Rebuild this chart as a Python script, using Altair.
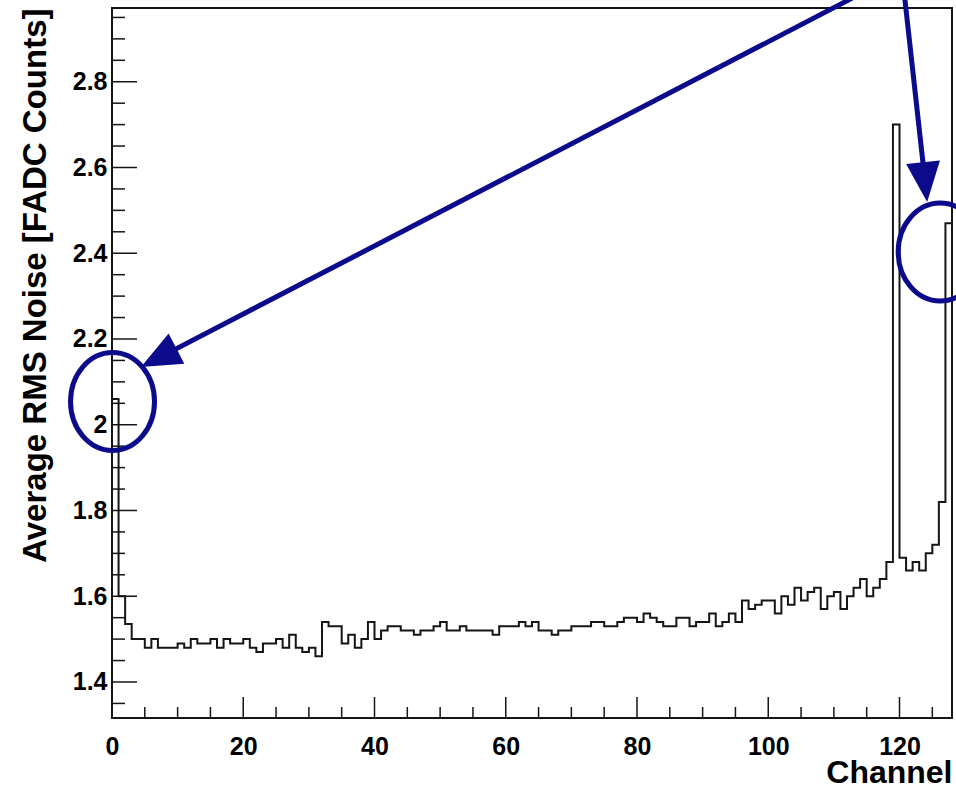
import altair as alt
import pandas as pd

# ---- data ----
channels = list(range(128))
noise = [
    2.06, 1.60, 1.535, 1.50, 1.50, 1.48, 1.50, 1.48, 1.48, 1.48,
    1.49, 1.48, 1.50, 1.49, 1.49, 1.50, 1.48, 1.50, 1.49, 1.49,
    1.50, 1.48, 1.47, 1.49, 1.49, 1.50, 1.48, 1.51, 1.48, 1.47,
    1.48, 1.46, 1.54, 1.53, 1.53, 1.49, 1.51, 1.48, 1.50, 1.54,
    1.50, 1.52, 1.53, 1.53, 1.52, 1.52, 1.51, 1.52, 1.52, 1.53,
    1.54, 1.52, 1.52, 1.53, 1.52, 1.52, 1.52, 1.52, 1.51, 1.53,
    1.53, 1.53, 1.54, 1.53, 1.54, 1.52, 1.52, 1.51, 1.52, 1.52,
    1.53, 1.53, 1.53, 1.54, 1.54, 1.53, 1.53, 1.54, 1.55, 1.55,
    1.54, 1.56, 1.55, 1.54, 1.53, 1.53, 1.55, 1.55, 1.53, 1.54,
    1.54, 1.56, 1.53, 1.54, 1.56, 1.54, 1.59, 1.57, 1.58, 1.59,
    1.59, 1.56, 1.60, 1.58, 1.62, 1.59, 1.61, 1.62, 1.57, 1.60,
    1.61, 1.57, 1.60, 1.62, 1.64, 1.60, 1.62, 1.64, 1.68, 2.70,
    1.69, 1.66, 1.68, 1.66, 1.70, 1.72, 1.82, 2.47,
]

x_major = [0, 20, 40, 60, 80, 100, 120]
x_minor = [5, 10, 15, 25, 30, 35, 45, 50, 55, 65, 70, 75, 85, 90, 95,
           105, 110, 115, 125]
y_major = [1.4, 1.6, 1.8, 2.0, 2.2, 2.4, 2.6, 2.8]
y_minor = [1.35, 1.45, 1.5, 1.55, 1.65, 1.7, 1.75, 1.85, 1.9, 1.95, 2.05,
           2.1, 2.15, 2.25, 2.3, 2.35, 2.45, 2.5, 2.55, 2.65, 2.7, 2.75,
           2.85, 2.9, 2.95]

# annotation anchors (data coordinates)
arrow_x_start = [112.8, 120.8]
arrow_y_start = [2.995, 2.995]
arrow_x_end = [7.12, 123.9]
arrow_y_end = [2.156, 2.566]
arrow_angle = [242.6, 174.1]
ring_x = [0.08, 126.2]
ring_y = [2.054, 2.403]

# ---- tables ----
hist = pd.DataFrame({"channel": channels + [128], "noise": noise + [noise[-1]]})
xmaj = pd.DataFrame({"channel": x_major})
xmin = pd.DataFrame({"channel": x_minor})
ymaj = pd.DataFrame({"noise": y_major})
ymin = pd.DataFrame({"noise": y_minor})
arrows = pd.DataFrame({"channel": arrow_x_start, "noise": arrow_y_start,
                       "channel2": arrow_x_end, "noise2": arrow_y_end,
                       "angle": arrow_angle})
rings = pd.DataFrame({"channel": ring_x, "noise": ring_y})

XDOM = [0, 128]
YDOM = [1.316, 2.972]
FONT = "Liberation Sans"
INK = "#151515"
BLUE = "#0b0b8c"

xs = alt.Scale(domain=XDOM, nice=False, zero=False)
ys = alt.Scale(domain=YDOM, nice=False, zero=False)

AX = alt.Axis(
    values=x_major, format="d", ticks=False, domain=False, grid=False,
    labelFont=FONT, labelFontSize=25, labelFontWeight="bold",
    labelColor="black", labelPadding=16, labelFlush=False,
    title="Channel", titleFont=FONT, titleFontSize=32,
    titleFontWeight="bold", titleColor="black", titleAlign="right",
    titleBaseline="alphabetic", titleAngle=0, titleX=840, titleY=64)
AY = alt.Axis(
    values=y_major, format=".1~f", ticks=False, domain=False, grid=False,
    labelFont=FONT, labelFontSize=25, labelFontWeight="bold",
    labelColor="black", labelPadding=5,
    title="Average RMS Noise [FADC Counts]", titleFont=FONT,
    titleFontSize=33, titleFontWeight="bold", titleColor="black",
    titleAngle=270, titleAlign="right", titleBaseline="alphabetic",
    titleX=-67, titleY=0)


def X(field):
    return alt.X(field, type="quantitative", scale=xs, axis=AX)


def Y(field):
    return alt.Y(field, type="quantitative", scale=ys, axis=AY)


line = alt.Chart(hist).mark_line(
    interpolate="step-after", color=INK, strokeWidth=2
).encode(x=X("channel"), y=Y("noise"))

ymaj_r = alt.Chart(ymaj).mark_rule(color=INK, strokeWidth=1.5).encode(
    y=Y("noise"), x=alt.value(0), x2=alt.value(25))
ymin_r = alt.Chart(ymin).mark_rule(color=INK, strokeWidth=1.5).encode(
    y=Y("noise"), x=alt.value(0), x2=alt.value(13))
xmaj_r = alt.Chart(xmaj).mark_rule(color=INK, strokeWidth=1.5).encode(
    x=X("channel"), y=alt.value(710), y2=alt.value(689))
xmin_r = alt.Chart(xmin).mark_rule(color=INK, strokeWidth=1.5).encode(
    x=X("channel"), y=alt.value(710), y2=alt.value(699))

arrow_lines = alt.Chart(arrows).mark_rule(color=BLUE, strokeWidth=5).encode(
    x=X("channel"), y=Y("noise"), x2="channel2:Q", y2="noise2:Q")
arrow_heads = alt.Chart(arrows).mark_point(
    shape="M 0 -1 L 0.85 1 L -0.85 1 Z", size=1600, filled=True,
    color=BLUE, opacity=1
).encode(x=X("channel2"), y=Y("noise2"),
         angle=alt.Angle("angle:Q", scale=None))
ellipse_path = ("M 0.857 0 C 0.857 0.552 0.473 1 0 1 C -0.473 1 -0.857 0.552 "
                "-0.857 0 C -0.857 -0.552 -0.473 -1 0 -1 C 0.473 -1 0.857 "
                "-0.552 0.857 0 Z")
ring_marks = alt.Chart(rings).mark_point(
    shape=ellipse_path, size=9604, filled=False, stroke=BLUE,
    strokeWidth=5, opacity=1
).encode(x=X("channel"), y=Y("noise"))

chart = alt.layer(
    line, ymaj_r, ymin_r, xmaj_r, xmin_r, ring_marks, arrow_lines, arrow_heads
).properties(
    width=840, height=710,
    background="white",
    autosize=alt.AutoSizeParams(type="none"),
    padding={"left": 112, "top": 8, "right": 4, "bottom": 71},
).configure_view(stroke=INK, strokeWidth=2)

chart.save("out.html", embed_options={"renderer": "svg", "actions": False})
